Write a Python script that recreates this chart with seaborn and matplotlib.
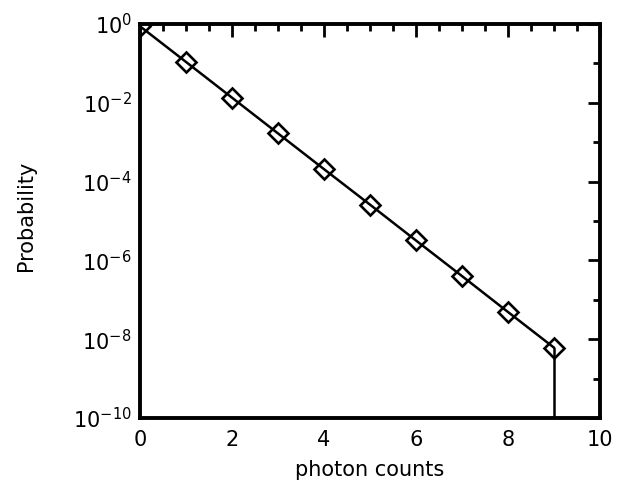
import numpy as np
import pandas as pd
import matplotlib
matplotlib.use("Agg")
import matplotlib.pyplot as plt
import seaborn as sns
from matplotlib.ticker import FixedLocator, MultipleLocator, FuncFormatter, NullFormatter

# data
counts = [0, 1, 2, 3, 4, 5, 6, 7, 8, 9]
probability = [0.876, 0.109, 1.35e-2, 1.67e-3, 2.07e-4, 2.6e-5, 3.2e-6, 4.0e-7, 4.9e-8, 6.1e-9]
x_ticks = [0, 2, 4, 6, 8, 10]
y_major_exp = [0, -2, -4, -6, -8, -10]
y_minor_exp = [-1, -3, -5, -7, -9]

sns.set_theme(style="white")
plt.rcParams['font.family'] = ['DejaVu Sans']
plt.rcParams['mathtext.default'] = 'regular'

df = pd.DataFrame({"photon counts": counts, "Probability": probability})

fig = plt.figure(figsize=(6.24, 4.83), dpi=100)
ax = fig.add_axes([140/624, 1-418/483, 460/624, 394/483])

sns.lineplot(data=df, x="photon counts", y="Probability", ax=ax, color="black",
             linewidth=1.8, marker="D", markersize=10.5, markerfacecolor="none",
             markeredgecolor="black", markeredgewidth=1.9, clip_on=True)
# drop to zero after the last point
ax.plot([counts[-1], counts[-1]], [probability[-1], 1e-14], color="black", linewidth=1.8)

ax.set_yscale("log")
ax.set_xlim(0, 10)
ax.set_ylim(1e-10, 1e0)

ax.xaxis.set_major_locator(FixedLocator(x_ticks))
ax.xaxis.set_minor_locator(MultipleLocator(0.5))
ax.yaxis.set_major_locator(FixedLocator([10.0**e for e in y_major_exp]))
ax.yaxis.set_minor_locator(FixedLocator([10.0**e for e in y_minor_exp]))
ax.yaxis.set_major_formatter(FuncFormatter(lambda v, p: r"$10^{%d}$" % round(np.log10(v))))
ax.yaxis.set_minor_formatter(NullFormatter())
ax.xaxis.set_major_formatter(FuncFormatter(lambda v, p: "%d" % v))
ax.xaxis.set_minor_formatter(NullFormatter())

ax.tick_params(which="both", direction="in", top=True, right=True, color="black",
               labelsize=15, labelcolor="black")
ax.tick_params(which="major", length=9, width=2)
ax.tick_params(which="minor", length=5, width=2)
ax.tick_params(axis="x", which="major", pad=9)
ax.tick_params(axis="y", which="major", pad=6)

for s in ax.spines.values():
    s.set_linewidth(2.8)
    s.set_color("black")

ax.set_xlabel("photon counts", fontsize=15, color="black")
ax.set_ylabel("Probability", fontsize=15, color="black")
ax.xaxis.set_label_coords(0.5, (418 - 460) / 394)
ax.yaxis.set_label_coords((36 - 140) / 460, (418 - 216) / 394)
ax.grid(False)

fig.savefig("out.png", dpi=100)
